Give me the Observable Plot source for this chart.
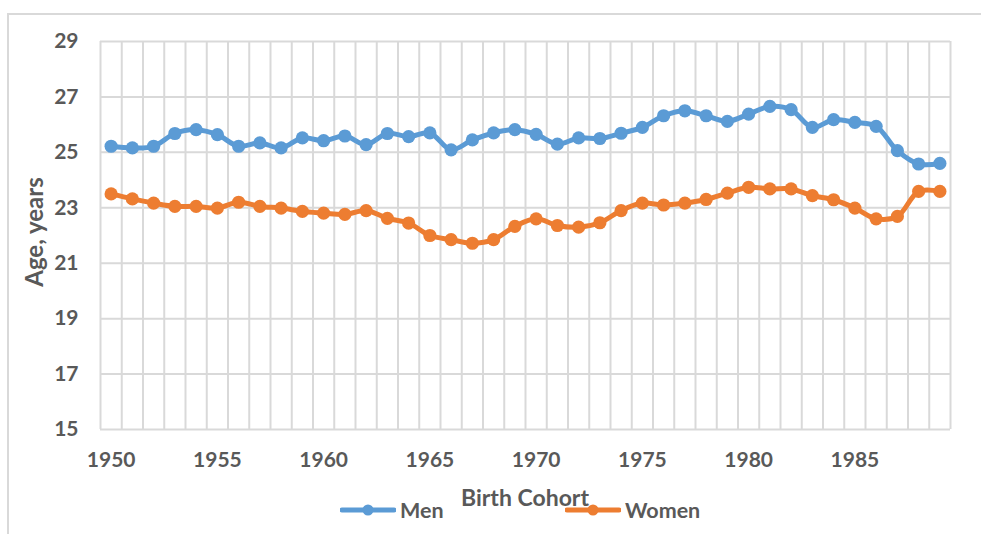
<!DOCTYPE html>
<html>
<head>
<meta charset="utf-8">
<script src="https://cdn.jsdelivr.net/npm/d3@7"></script>
<script src="https://cdn.jsdelivr.net/npm/@observablehq/plot@0.6"></script>
<style>
  body { margin: 0; background: #fff; }
  #wrap { position: relative; width: 981px; height: 534px; overflow: hidden; font-family: Lato, "Open Sans", sans-serif; color: #595959; font-weight: bold; }
  #frame { position: absolute; left: 7px; top: 13px; width: 1100px; height: 700px; border-left: 2px solid #d9d9d9; border-top: 2px solid #d9d9d9; }
  #chart { position: absolute; left: 0; top: 0; }
  .lab { position: absolute; white-space: nowrap; }
  #ylab { left: 33px; top: 232px; transform: translate(-50%, -50%) rotate(-90deg); font-size: 24px; }
  #xlab { left: 525px; top: 497px; transform: translate(-50%, -50%); font-size: 23px; }
  .leg { position: absolute; top: 497px; display: flex; align-items: center; font-size: 21.5px; }
  .leg svg { margin-right: 4px; }
</style>
</head>
<body>
<div id="wrap">
  <div id="frame"></div>
  <div id="chart"></div>
  <div id="ylab" class="lab">Age, years</div>
  <div id="legMen" class="leg" style="left:340px"></div>
  <div id="legWomen" class="leg" style="left:565px"></div>
  <div id="xlab" class="lab">Birth Cohort</div>
</div>
<script>
const years = [1950,1951,1952,1953,1954,1955,1956,1957,1958,1959,
               1960,1961,1962,1963,1964,1965,1966,1967,1968,1969,
               1970,1971,1972,1973,1974,1975,1976,1977,1978,1979,
               1980,1981,1982,1983,1984,1985,1986,1987,1988,1989];
const men = [25.22,25.16,25.22,25.68,25.82,25.64,25.22,25.34,25.16,25.52,
             25.42,25.59,25.28,25.68,25.57,25.70,25.09,25.45,25.70,25.82,
             25.65,25.30,25.52,25.50,25.69,25.90,26.32,26.50,26.32,26.12,
             26.38,26.66,26.54,25.90,26.18,26.08,25.94,25.06,24.58,24.60];
const women = [23.50,23.32,23.17,23.05,23.05,22.99,23.20,23.05,22.99,22.87,
               22.81,22.76,22.90,22.62,22.45,22.00,21.85,21.72,21.85,22.33,
               22.60,22.36,22.30,22.46,22.90,23.17,23.10,23.17,23.30,23.53,
               23.74,23.68,23.68,23.44,23.29,22.99,22.60,22.69,23.59,23.59];
const seriesNames = ["Men", "Women"];
const seriesColors = ["#5b9bd5", "#ed7d31"];
const yTicks = [15,17,19,21,23,25,27,29];
const xTicks = [1950,1955,1960,1965,1970,1975,1980,1985];

const data = [];
years.forEach((yr, i) => {
  data.push({year: yr, value: men[i], series: seriesNames[0]});
  data.push({year: yr, value: women[i], series: seriesNames[1]});
});
const gridX = years.map(y => y - 0.5).concat([years[years.length - 1] + 0.5]);

const chart = Plot.plot({
  width: 981,
  height: 534,
  marginLeft: 100,
  marginRight: 31,
  marginTop: 41,
  marginBottom: 105,
  style: {fontFamily: "Lato, 'Open Sans', sans-serif", fontWeight: "bold", color: "#595959", background: "transparent"},
  x: {domain: [years[0] - 0.5, years[years.length - 1] + 0.5]},
  y: {domain: [yTicks[0], yTicks[yTicks.length - 1]]},
  color: {domain: seriesNames, range: seriesColors},
  marks: [
    Plot.ruleX(gridX, {stroke: "#d9d9d9", strokeWidth: 2, strokeOpacity: 1}),
    Plot.ruleY(yTicks, {stroke: "#d9d9d9", strokeWidth: 2, strokeOpacity: 1}),
    Plot.axisY(yTicks, {tickSize: 0, tickPadding: 22, fontSize: 21, label: null, tickFormat: d => String(d)}),
    Plot.axisX(xTicks, {tickSize: 0, tickPadding: 23, fontSize: 21, label: null, tickFormat: d => String(d)}),
    Plot.line(data, {x: "year", y: "value", z: "series", stroke: "series", strokeWidth: 5, curve: "catmull-rom"}),
    Plot.dot(data, {x: "year", y: "value", fill: "series", r: 6.6})
  ]
});
document.getElementById("chart").appendChild(chart);

function swatch(color) {
  return `<svg width="56" height="14"><line x1="2" y1="7" x2="54" y2="7" stroke="${color}" stroke-width="5" stroke-linecap="round"/><circle cx="28" cy="7" r="5.5" fill="${color}"/></svg>`;
}
document.getElementById("legMen").innerHTML = swatch(seriesColors[0]) + "<span>" + seriesNames[0] + "</span>";
document.getElementById("legWomen").innerHTML = swatch(seriesColors[1]) + "<span>" + seriesNames[1] + "</span>";
</script>
</body>
</html>
